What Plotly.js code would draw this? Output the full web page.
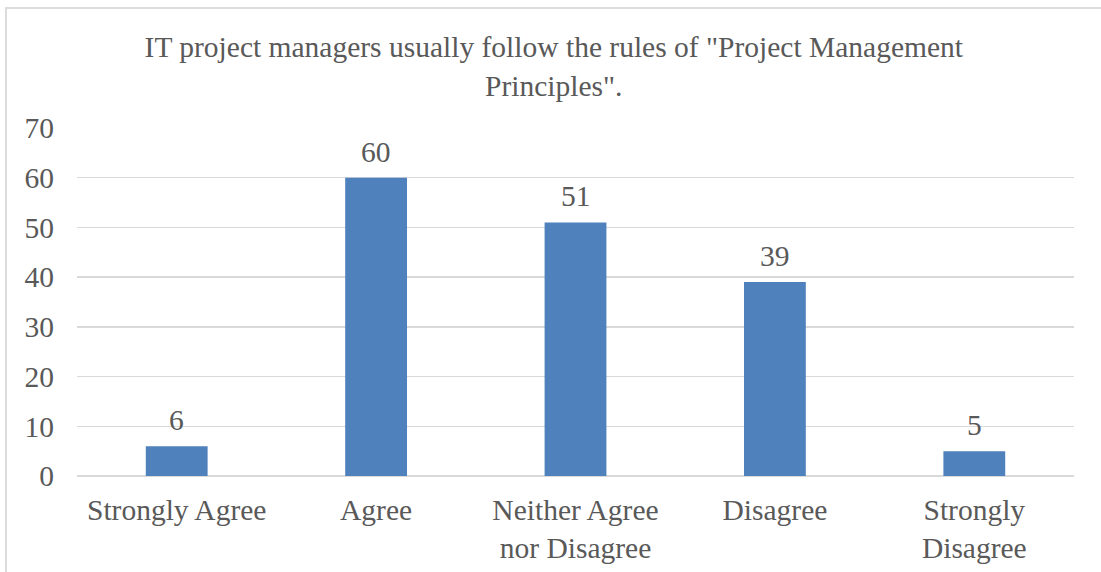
<!DOCTYPE html>
<html>
<head>
<meta charset="utf-8">
<script src="https://cdn.plot.ly/plotly-3.0.1.min.js"></script>
<style>
  html, body { margin: 0; padding: 0; background: #fff; overflow: hidden; }
  #wrap { position: relative; width: 1101px; height: 572px; }
  #chart { width: 1101px; height: 572px; }
  #frame {
    position: absolute; left: 5px; top: 7px; width: 1200px; height: 700px;
    border: 2px solid #dcdcdc; box-sizing: border-box; pointer-events: none;
  }
</style>
</head>
<body>
<div id="wrap">
  <div id="chart"></div>
  <div id="frame"></div>
</div>
<script>
// survey responses, one bar per answer
const answers = ["Strongly Agree", "Agree", "Neither Agree<br>nor Disagree", "Disagree", "Strongly<br>Disagree"];
const counts = [6, 60, 51, 39, 5];
const yTicks = [0, 10, 20, 30, 40, 50, 60, 70];

const textColor = "#595959";
const serif = "Liberation Serif, Times New Roman, serif";
const fs = 29.5;

const trace = {
  type: "bar",
  x: answers,
  y: counts,
  marker: { color: "#4f81bd" },
  hoverinfo: "x+y"
};

// value labels above each bar
const labels = answers.map((a, i) => ({
  x: a,
  y: counts[i],
  text: String(counts[i]),
  showarrow: false,
  yanchor: "bottom",
  yshift: 8,
  font: { family: serif, size: fs, color: textColor }
}));

const layout = {
  width: 1101,
  height: 572,
  title: {
    text: "IT project managers usually follow the rules of \"Project Management<br>Principles\".",
    font: { family: serif, size: fs, color: textColor },
    xref: "container",
    x: 0.503,
    xanchor: "center",
    yref: "container",
    y: 0.90,
    yanchor: "top"
  },
  xaxis: {
    type: "category",
    showgrid: false,
    showline: false,
    ticks: "",
    ticklabelstandoff: 13,
    tickfont: { family: serif, size: fs, color: textColor }
  },
  yaxis: {
    range: [0, 70],
    tickvals: yTicks,
    showgrid: true,
    gridcolor: "#d9d9d9",
    gridwidth: 1.5,
    zeroline: true,
    zerolinecolor: "#d9d9d9",
    zerolinewidth: 1.5,
    showline: false,
    ticks: "",
    ticklabelstandoff: 22,
    tickfont: { family: serif, size: fs, color: textColor }
  },
  bargap: 0.69,
  annotations: labels,
  showlegend: false,
  paper_bgcolor: "#ffffff",
  plot_bgcolor: "#ffffff",
  margin: { l: 77, r: 27, t: 128, b: 96 }
};

Plotly.newPlot("chart", [trace], layout, { displayModeBar: false, staticPlot: true });
</script>
</body>
</html>
